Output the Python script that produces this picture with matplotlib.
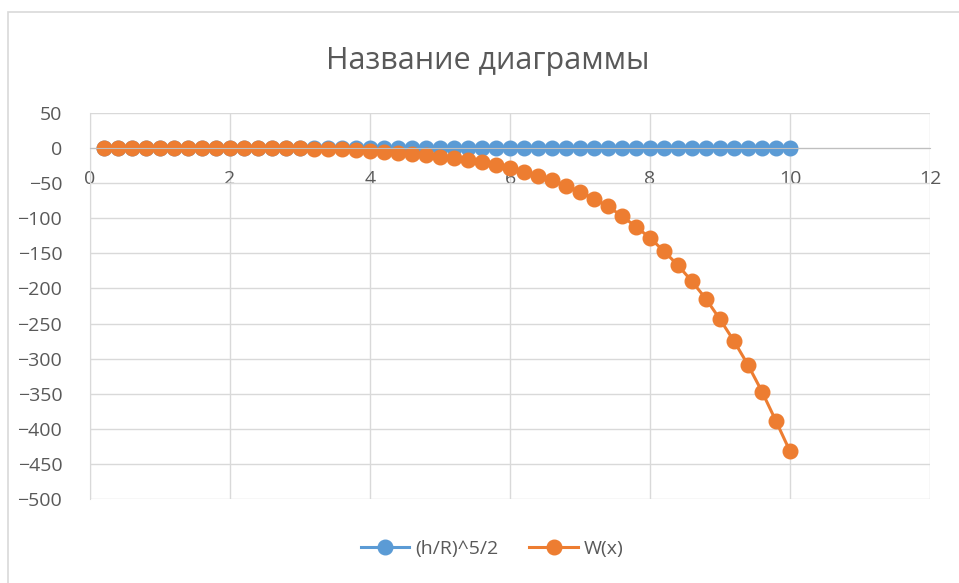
import matplotlib
matplotlib.use("Agg")
import matplotlib.pyplot as plt
from matplotlib.patches import Rectangle

# x values of both series
x_vals = [0.2, 0.4, 0.6, 0.8, 1.0, 1.2, 1.4, 1.6, 1.8, 2.0,
          2.2, 2.4, 2.6, 2.8, 3.0, 3.2, 3.4, 3.6, 3.8, 4.0,
          4.2, 4.4, 4.6, 4.8, 5.0, 5.2, 5.4, 5.6, 5.8, 6.0,
          6.2, 6.4, 6.6, 6.8, 7.0, 7.2, 7.4, 7.6, 7.8, 8.0,
          8.2, 8.4, 8.6, 8.8, 9.0, 9.2, 9.4, 9.6, 9.8, 10.0]

# (h/R)^5/2 - stays at ~0 on this scale
hr_vals = [0.0, 0.0, 0.0, 0.0, 0.0, 0.0, 0.0, 0.0, 0.0, 0.0,
           0.0, 0.0, 0.0, 0.0, 0.0, 0.0, 0.0, 0.0, 0.0, 0.0,
           0.0, 0.0, 0.0, 0.0, 0.0, 0.0, 0.0, 0.0, 0.0, 0.0,
           0.0, 0.0, 0.0, 0.0, 0.0, 0.0, 0.0, 0.0, 0.0, 0.0,
           0.0, 0.0, 0.0, 0.0, 0.0, 0.0, 0.0, 0.0, 0.0, 0.0]

# W(x)
w_vals = [0.0, 0.0, 0.0, 0.0, 0.0, 0.0, 0.0, 0.0, 0.0, -0.1,
          -0.1, -0.2, -0.3, -0.4, -0.5, -0.8, -1.1, -1.6, -2.4, -3.5,
          -5.0, -6.5, -8.0, -10.0, -12.0, -14.5, -17.5, -20.5, -24.5, -29.0,
          -34.0, -39.5, -46.0, -53.5, -62.0, -72.0, -83.0, -97.0, -112.0, -128.0,
          -147.0, -167.0, -190.0, -215.0, -244.0, -275.0, -309.0, -347.0, -389.0, -432.0]

x_ticks = [0, 2, 4, 6, 8, 10, 12]
y_ticks = [50, 0, -50, -100, -150, -200, -250, -300, -350, -400, -450, -500]

title = "Название диаграммы"
labels = ["(h/R)^5/2", "W(x)"]
colors = ["#5B9BD5", "#ED7D31"]

FONT = ["Open Sans", "DejaVu Sans"]
TEXT_COLOR = "#595959"
GRID_COLOR = "#d9d9d9"


def main():
    plt.rcParams["font.family"] = FONT
    fig = plt.figure(figsize=(9.59, 5.83), dpi=100)
    ax = fig.add_axes([90 / 959, 1 - 499 / 583, 840 / 959, 386 / 583])

    # chart area border (only left and top edges visible)
    fig.patches.append(Rectangle((8 / 959, -0.1), 1.2, 1 - 12 / 583 + 0.1,
                                 transform=fig.transFigure, fill=False,
                                 edgecolor=GRID_COLOR, linewidth=1.2))

    for vals, lab, col in zip([hr_vals, w_vals], labels, colors):
        ax.plot(x_vals, vals, "-o", color=col, label=lab,
                linewidth=2.2, markersize=10.5, clip_on=False)

    ax.set_xlim(0, 12)
    ax.set_ylim(-500, 50)
    ax.set_xticks(x_ticks)
    ax.set_yticks(y_ticks)
    ax.grid(True, color=GRID_COLOR, linewidth=1.0)
    ax.set_axisbelow(True)

    for side in ["top", "right"]:
        ax.spines[side].set_visible(False)
    ax.spines["left"].set_color(GRID_COLOR)
    ax.spines["bottom"].set_position(("data", 0))
    ax.spines["bottom"].set_color("#bfbfbf")

    ax.tick_params(axis="x", length=0, pad=16, labelsize=14, labelcolor=TEXT_COLOR)
    ax.tick_params(axis="y", length=0, pad=20, labelsize=14, labelcolor=TEXT_COLOR)

    fig.text(488 / 959, 1 - 61 / 583, title, ha="center", va="center",
             fontsize=22, color=TEXT_COLOR)

    fig.legend(loc="center", bbox_to_anchor=(492 / 959, 1 - 549 / 583), ncol=2,
               frameon=False, fontsize=14, labelcolor=TEXT_COLOR,
               handlelength=2.5, columnspacing=1.6, handletextpad=0.3)

    fig.savefig("out.png", dpi=100)


if __name__ == "__main__":
    main()
